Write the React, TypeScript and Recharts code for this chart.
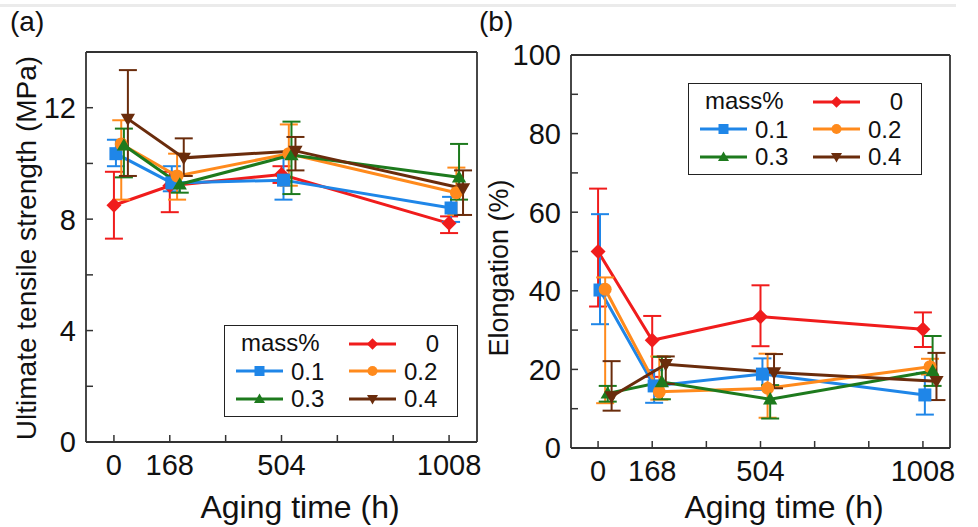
import React from 'react'
import { LineChart, Line, XAxis, YAxis, ErrorBar, Legend } from 'recharts'

const font = '"Liberation Sans", Arial, Helvetica, sans-serif'
const axisColor = '#333'
const textColor = '#111'

const agingTimes = [0, 168, 504, 1008]
const xTicks = [0, 168, 336, 504, 672, 840, 1008]
const xLabelled = [0, 168, 504, 1008]
const massPercent = ['0', '0.1', '0.2', '0.3', '0.4']
// the original staggers each series a little along the time axis (h)
const timeShift = [0, 6, 22, 30, 42]

const seriesColors = ['#f01c1c', '#1f86e8', '#ff8a1c', '#1d7a1d', '#6a2c0c']
const seriesShapes = ['diamond', 'square', 'circle', 'triangle', 'triangleDown']

// (a) ultimate tensile strength, MPa
const utsTicks = [0, 2, 4, 6, 8, 10, 12, 14]
const utsLabelled = [0, 4, 8, 12]
const utsMean = [
  [8.5, 9.2, 9.6, 7.85],
  [10.35, 9.3, 9.4, 8.4],
  [10.7, 9.55, 10.35, 8.95],
  [10.65, 9.25, 10.3, 9.5],
  [11.6, 10.2, 10.45, 9.1],
]
// [below, above]
const utsErr = [
  [[1.2, 1.2], [0.95, 0.5], [0.3, 0.3], [0.35, 0.25]],
  [[0.45, 0.5], [0.3, 0.6], [0.7, 0.8], [0.5, 0.4]],
  [[2.0, 0.85], [0.85, 0.8], [1.15, 1.05], [0.8, 0.9]],
  [[1.15, 0.6], [0.3, 0.3], [1.4, 1.2], [0.8, 1.2]],
  [[2.05, 1.75], [0.65, 0.7], [0.7, 0.5], [0.95, 0.65]],
]

// (b) elongation, %
const elongTicks = [0, 10, 20, 30, 40, 50, 60, 70, 80, 90, 100]
const elongLabelled = [0, 20, 40, 60, 80, 100]
const elongMean = [
  [50, 27.4, 33.4, 30.2],
  [40.2, 15.8, 18.8, 13.5],
  [40.4, 14.3, 15.2, 20.7],
  [13.9, 16.8, 12.4, 19.6],
  [13.1, 21.3, 19.2, 17],
]
const elongErr = [
  [[14, 16], [9.3, 6.2], [7.5, 8], [4.5, 4.3]],
  [[8.7, 19.3], [4.3, 4], [4, 4], [5, 5.6]],
  [[29, 3], [2, 9], [7.5, 8.8], [2, 2]],
  [[2.1, 1.9], [4.4, 6.4], [4.9, 3.6], [3.8, 8.9]],
  [[3.6, 9], [5, 2], [4, 4.7], [4.8, 7.2]],
]

function buildSeries(means: number[][], errs: number[][][]) {
  return massPercent.map((_, i) =>
    agingTimes.map((t, j) => ({ t: t + timeShift[i], v: means[i][j], err: errs[i][j] }))
  )
}

function Marker({ cx, cy, shape, color, s }: any) {
  if (cx == null || cy == null) return null
  if (shape === 'square') {
    return <rect x={cx - s} y={cy - s} width={2 * s} height={2 * s} fill={color} />
  }
  if (shape === 'circle') {
    return <circle cx={cx} cy={cy} r={s} fill={color} />
  }
  if (shape === 'diamond') {
    const d = s * 1.15
    return <polygon points={`${cx},${cy - d} ${cx + d},${cy} ${cx},${cy + d} ${cx - d},${cy}`} fill={color} />
  }
  if (shape === 'triangle') {
    return <polygon points={`${cx},${cy - s * 1.1} ${cx + s * 1.1},${cy + s * 0.8} ${cx - s * 1.1},${cy + s * 0.8}`} fill={color} />
  }
  return <polygon points={`${cx},${cy + s * 1.1} ${cx + s * 1.1},${cy - s * 0.8} ${cx - s * 1.1},${cy - s * 0.8}`} fill={color} />
}

const BottomTick = ({ x, y, payload }: any) => (
  <g>
    <line x1={x} y1={y} x2={x} y2={y - 7} stroke={axisColor} strokeWidth={1.5} />
    {xLabelled.includes(payload.value) && (
      <text x={x} y={y + 33} textAnchor="middle" fontSize={29} fontFamily={font} fill={textColor}>
        {payload.value}
      </text>
    )}
  </g>
)

const TopTick = ({ x, y }: any) => (
  <line x1={x} y1={y} x2={x} y2={y + 7} stroke={axisColor} strokeWidth={1.5} />
)

const RightTick = ({ x, y }: any) => (
  <line x1={x} y1={y} x2={x - 7} y2={y} stroke={axisColor} strokeWidth={1.5} />
)

const makeLeftTick = (labelled: number[]) => ({ x, y, payload }: any) => (
  <g>
    <line x1={x} y1={y} x2={x + 7} y2={y} stroke={axisColor} strokeWidth={1.5} />
    {labelled.includes(payload.value) && (
      <text x={x - 10} y={y} dy="0.36em" textAnchor="end" fontSize={29} fontFamily={font} fill={textColor}>
        {payload.value}
      </text>
    )}
  </g>
)

// legend slots: [series index, column, row]
const legendSlots = [
  [0, 1, 0],
  [1, 0, 1],
  [2, 1, 1],
  [3, 0, 2],
  [4, 1, 2],
]

function MassLegend() {
  const rowY = [19, 46.5, 74]
  const colX = [11, 124]
  return (
    <div
      style={{
        position: 'relative',
        width: 234,
        height: 92,
        boxSizing: 'border-box',
        border: '1.5px solid #222',
        background: '#fff',
        fontFamily: font,
        fontSize: 24,
        color: textColor,
        lineHeight: '24px',
      }}
    >
      <span style={{ position: 'absolute', left: 16, top: rowY[0] - 14 }}>mass%</span>
      {legendSlots.map(([i, c, r]) => (
        <React.Fragment key={i}>
          <svg
            width={47}
            height={16}
            style={{ position: 'absolute', left: colX[c], top: rowY[r] - 8 - 1.5 }}
          >
            <line x1={0} y1={8} x2={47} y2={8} stroke={seriesColors[i]} strokeWidth={3} />
            <Marker cx={23.5} cy={8} shape={seriesShapes[i]} color={seriesColors[i]} s={5} />
          </svg>
          {i === 0 ? (
            <span style={{ position: 'absolute', right: 18, top: rowY[r] - 13 }}>{massPercent[i]}</span>
          ) : (
            <span style={{ position: 'absolute', left: colX[c] + 55, top: rowY[r] - 13 }}>{massPercent[i]}</span>
          )}
        </React.Fragment>
      ))}
    </div>
  )
}

interface PanelProps {
  series: any[][]
  width: number
  height: number
  margin: { top: number; right: number; bottom: number; left: number }
  yDomain: [number, number]
  yTicks: number[]
  yLabelled: number[]
  legendPos: { left: number; top: number }
}

function Panel({ series, width, height, margin, yDomain, yTicks, yLabelled, legendPos }: PanelProps) {
  const axisLine = { stroke: axisColor, strokeWidth: 1.8 }
  return (
    <LineChart width={width} height={height} margin={margin}>
      <XAxis
        dataKey="t"
        type="number"
        domain={[-84, 1092]}
        ticks={xTicks}
        interval={0}
        tickSize={0}
        tickMargin={0}
        tickLine={false}
        axisLine={axisLine}
        height={40}
        tick={<BottomTick />}
      />
      <XAxis
        xAxisId="top"
        orientation="top"
        dataKey="t"
        type="number"
        domain={[-84, 1092]}
        ticks={xTicks}
        interval={0}
        tickSize={0}
        tickMargin={0}
        tickLine={false}
        axisLine={axisLine}
        height={10}
        tick={<TopTick />}
      />
      <YAxis
        type="number"
        domain={yDomain}
        ticks={yTicks}
        interval={0}
        tickSize={0}
        tickMargin={0}
        tickLine={false}
        axisLine={axisLine}
        width={60}
        tick={makeLeftTick(yLabelled)}
      />
      <YAxis
        yAxisId="right"
        orientation="right"
        type="number"
        domain={yDomain}
        ticks={yTicks}
        interval={0}
        tickSize={0}
        tickMargin={0}
        tickLine={false}
        axisLine={axisLine}
        width={10}
        tick={<RightTick />}
      />
      <Legend
        layout="vertical"
        align="center"
        verticalAlign="middle"
        content={() => <MassLegend />}
        wrapperStyle={{ left: legendPos.left, top: legendPos.top, width: 234, height: 92 }}
      />
      {series.map((data, i) => (
        <Line
          key={massPercent[i]}
          data={data}
          dataKey="v"
          name={massPercent[i]}
          stroke={seriesColors[i]}
          strokeWidth={3}
          isAnimationActive={false}
          activeDot={false}
          dot={(p: any) => (
            <Marker key={`${i}-${p.index}`} cx={p.cx} cy={p.cy} shape={seriesShapes[i]} color={seriesColors[i]} s={6.5} />
          )}
        >
          <ErrorBar dataKey="err" direction="y" width={9} strokeWidth={2} stroke={seriesColors[i]} />
        </Line>
      ))}
    </LineChart>
  )
}

export default function App() {
  const utsSeries = buildSeries(utsMean, utsErr)
  const elongSeries = buildSeries(elongMean, elongErr)
  const title = { fontFamily: font, fill: textColor }
  return (
    <div style={{ position: 'absolute', left: 0, top: 0, width: 978, height: 527, background: '#fff', overflow: 'hidden' }}>
      <svg width={978} height={527} style={{ position: 'absolute', left: 0, top: 0 }}>
        <rect x={0} y={4} width={956} height={3} fill="#ebebeb" />
        <text x={10} y={31} fontSize={28} {...title}>(a)</text>
        <text x={479} y={31} fontSize={28} {...title}>(b)</text>
        <text x={300} y={518} fontSize={32} textAnchor="middle" {...title}>Aging time (h)</text>
        <text x={784} y={518} fontSize={32} textAnchor="middle" {...title}>Aging time (h)</text>
        <text transform="translate(36,248) rotate(-90)" fontSize={28} textAnchor="middle" {...title}>
          Ultimate tensile strength (MPa)
        </text>
        <text transform="translate(508,268) rotate(-90)" fontSize={27} textAnchor="middle" {...title}>
          Elongation (%)
        </text>
      </svg>
      <div style={{ position: 'absolute', left: 0, top: 0 }}>
        <Panel
          series={utsSeries}
          width={500}
          height={527}
          margin={{ top: 42, right: 13, bottom: 45, left: 26 }}
          yDomain={[0, 14]}
          yTicks={utsTicks}
          yLabelled={utsLabelled}
          legendPos={{ left: 224, top: 325 }}
        />
      </div>
      <div style={{ position: 'absolute', left: 485, top: 0 }}>
        <Panel
          series={elongSeries}
          width={493}
          height={527}
          margin={{ top: 45, right: 18, bottom: 39, left: 26 }}
          yDomain={[0, 100]}
          yTicks={elongTicks}
          yLabelled={elongLabelled}
          legendPos={{ left: 203, top: 83 }}
        />
      </div>
    </div>
  )
}
